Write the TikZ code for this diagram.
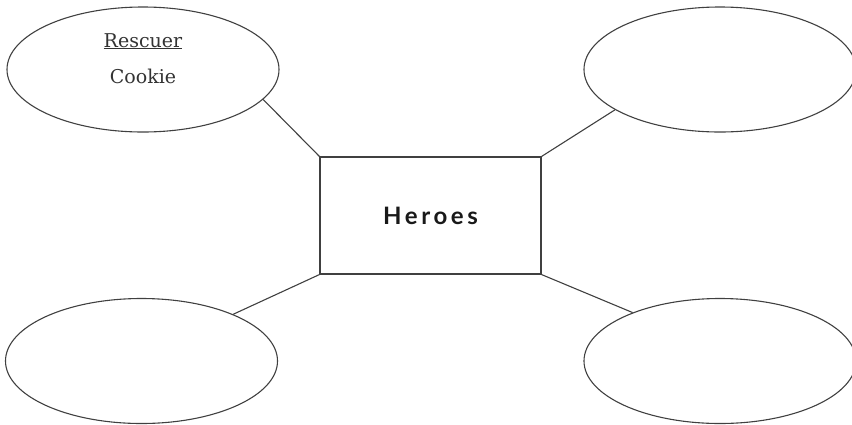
\documentclass[tikz,border=0pt]{standalone}
\usepackage{fontspec}
\setmainfont{DejaVu Serif}
\newfontfamily\heroesfont[LetterSpace=15]{Lato}
\usetikzlibrary{shapes.geometric}

\begin{document}
\begin{tikzpicture}[x=1pt,y=1pt,line width=1.1pt,
  bubble/.style={draw=black!75,ellipse,minimum width=272pt,minimum height=125pt,inner sep=0pt},
  hub/.style={draw=black!75,minimum width=221pt,minimum height=117pt,inner sep=0pt,font=\heroesfont\bfseries\fontsize{24}{28}\selectfont,text=black!90},
  entry/.style={font=\fontsize{19}{22}\selectfont,text=black!80,inner sep=0pt}]
  \useasboundingbox (0,0) rectangle (852,-424);
  \node[hub] (heroes) at (430.5,-215.5) {Heroes};
  \node[bubble] (rescuer) at (143,-69.5) {};
  \node[bubble] (topright) at (720,-69.5) {};
  \node[bubble] (botleft) at (141.5,-361) {};
  \node[bubble] (botright) at (720,-361) {};
  \node[entry,anchor=base] (role) at (143,-47) {\underline{Rescuer}};
  \node[entry,anchor=base] (name) at (143,-83) {Cookie};
  \draw[black!75] (heroes.north west)--(rescuer.-14.3);
  \draw[black!75] (heroes.north east)--(topright.-159.7);
  \draw[black!75] (heroes.south west)--(botleft.27.9);
  \draw[black!75] (heroes.south east)--(botright.151.9);
\end{tikzpicture}
\end{document}
